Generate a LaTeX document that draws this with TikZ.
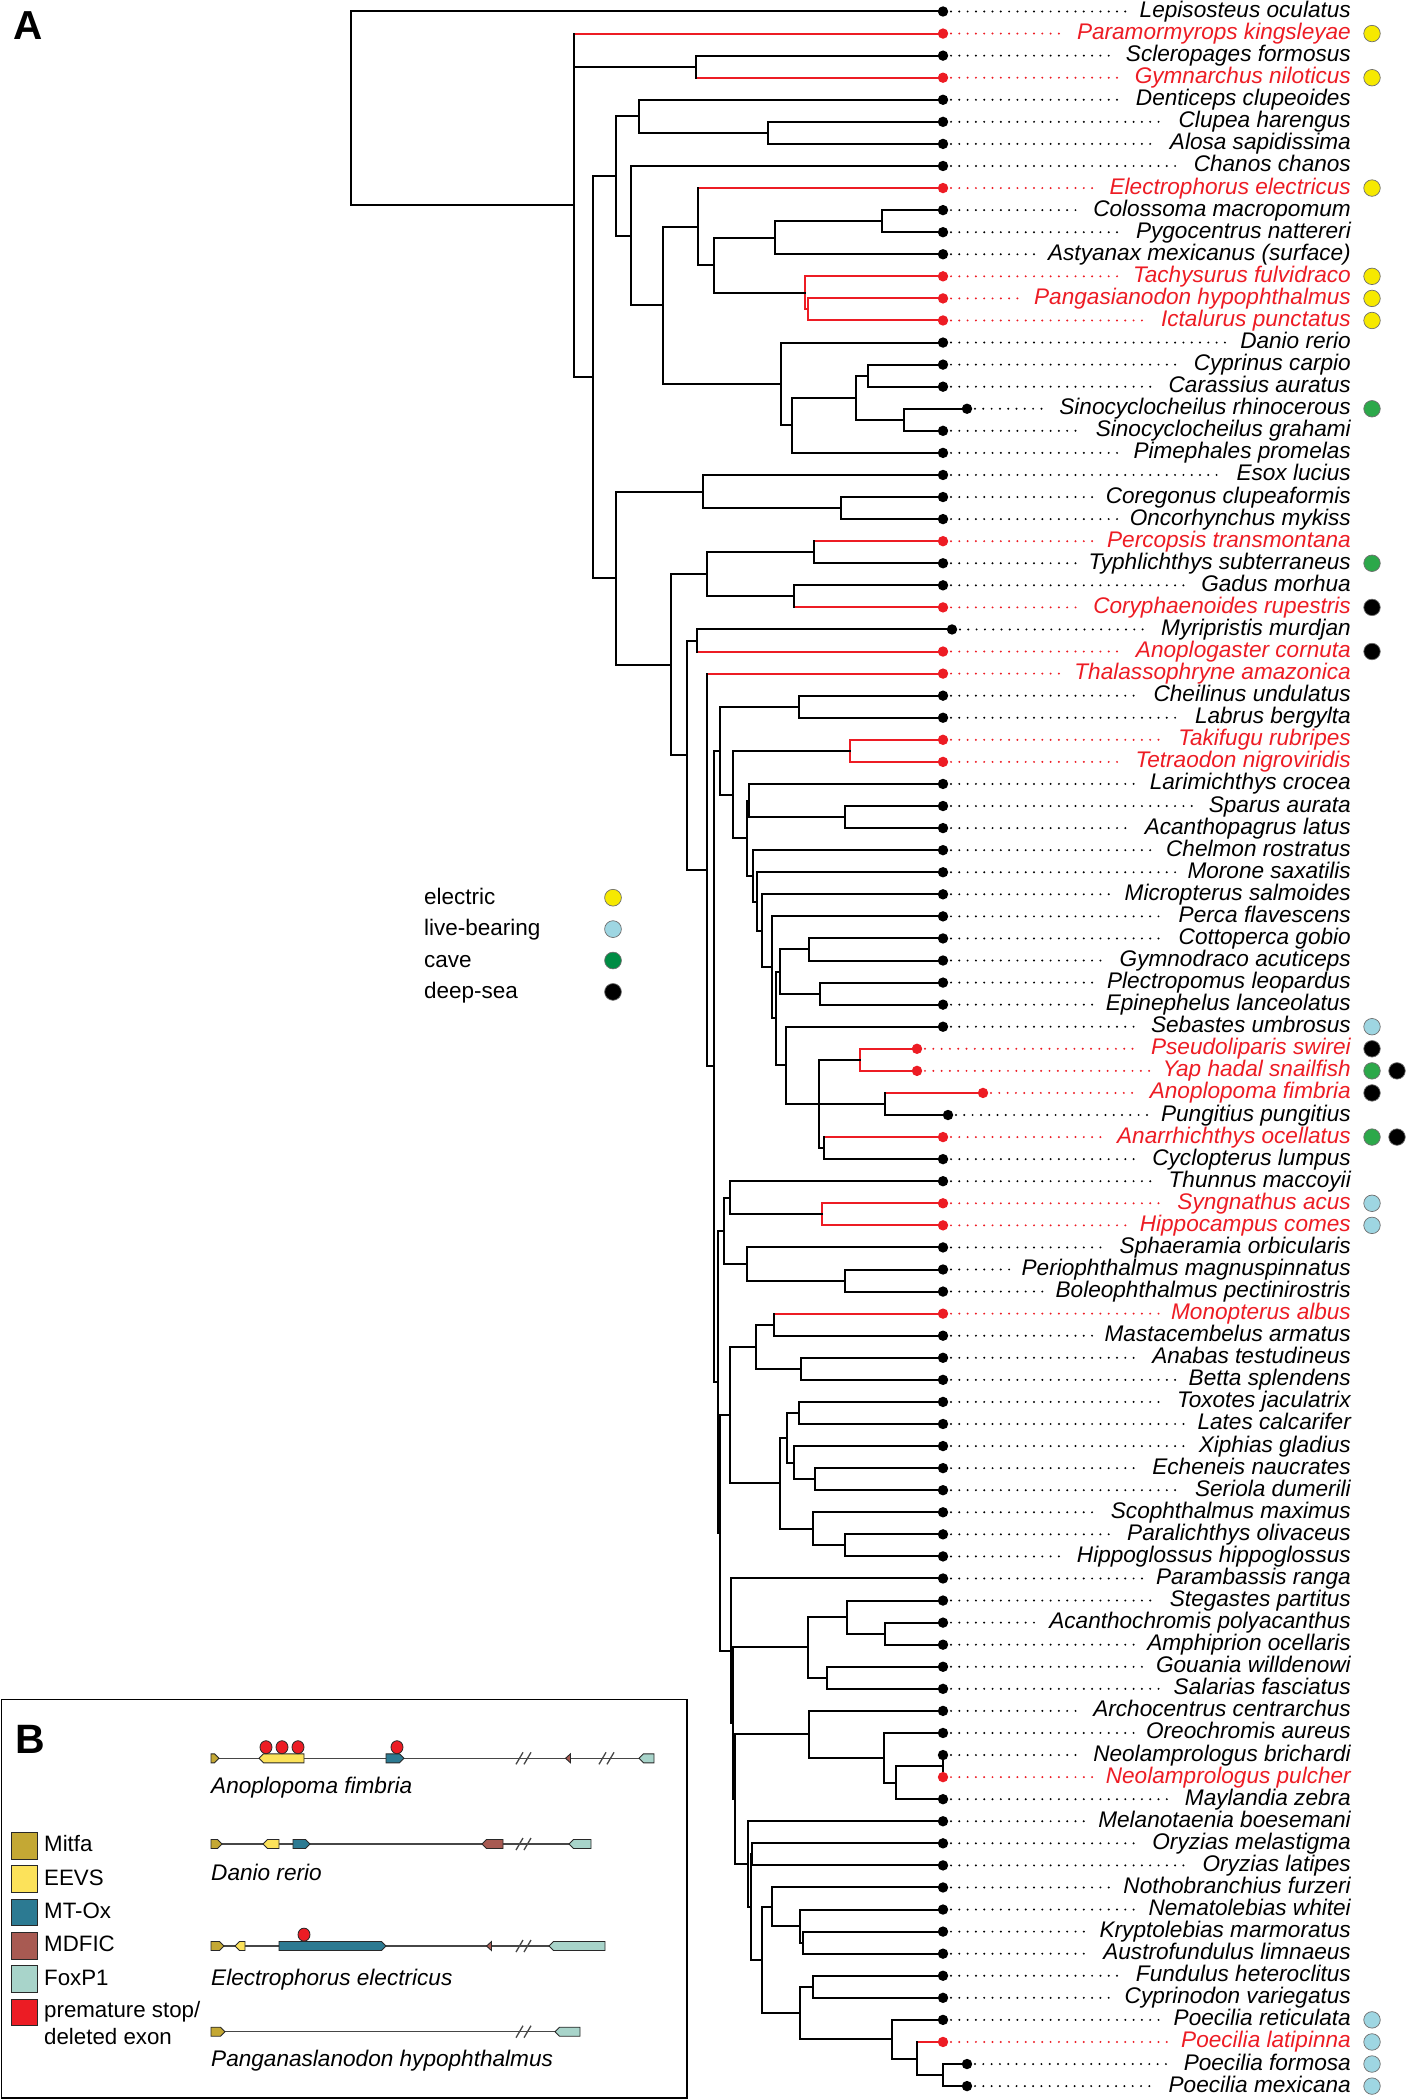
\documentclass[tikz,border=0pt]{standalone}
\usepackage{fontspec}
\setmainfont{Liberation Sans}
\usetikzlibrary{calc}
\definecolor{rd}{RGB}{237,28,36}
\definecolor{bk}{RGB}{0,0,0}
\definecolor{tyellow}{RGB}{246,233,0}
\definecolor{tblue}{RGB}{158,214,226}
\definecolor{tgreen}{RGB}{44,168,74}
\definecolor{lgreen}{RGB}{0,140,68}
\definecolor{trgray}{RGB}{110,110,110}
\definecolor{gdark}{RGB}{40,40,40}
\definecolor{glin}{RGB}{70,70,70}
\definecolor{cMitfa}{RGB}{196,168,52}
\definecolor{cEEVS}{RGB}{252,226,90}
\definecolor{cMTOx}{RGB}{44,122,146}
\definecolor{cMDFIC}{RGB}{168,90,82}
\definecolor{cFoxP}{RGB}{168,212,202}
\definecolor{cStop}{RGB}{236,28,36}
\tikzset{
 br/.style={line width=2pt, line cap=rect},
 lab/.style={anchor=base east, inner sep=0pt, font=\fontsize{22.6}{26}\selectfont\itshape},
 leader/.style={line width=2.2pt, line cap=round, dash pattern=on 0pt off 8.3pt, shorten <=8pt, shorten >=12pt},
 trait/.style={circle, draw=trgray, line width=0.7pt, minimum size=16.5pt, inner sep=0pt},
 legtxt/.style={anchor=base west, inner sep=0pt, font=\fontsize{22.5}{26}\selectfont},
 sptxt/.style={anchor=base west, inner sep=0pt, font=\fontsize{22.6}{26}\selectfont\itshape},
 gene/.style={draw=gdark, line width=0.9pt, line join=miter},
 gline/.style={draw=glin, line width=1.3pt},
 stopm/.style={fill=cStop, draw=gdark, line width=0.8pt},
}
% leaf: index, tip x, colour, name
\newcommand\lf[4]{%
  \coordinate (L#1) at (#2, {11.5+(#1-1)*22.07});
  \node[lab, text=#3] (T#1) at (1351, {17.5+(#1-1)*22.07}) {#4};
  \draw[leader, #3] (L#1) -- (L#1 -| T#1.west);
  \expandafter\gdef\csname lc#1\endcsname{#3}%
}
% trait circle: index, column, colour
\newcommand\tr[3]{\node[trait, fill=#3] (tr#1-#2) at ({1347+25*#2}, {11.5+(#1-1)*22.07}) {};}
% clade: name, x, first child, last child, vertical col, first horiz col, last horiz col
\newcommand\cl[7]{%
  \path let \p1=(#3), \p2=(#4) in coordinate (#1) at (#2pt, {(\y1+\y2)/2});
  \draw[br, #6] (#1 |- #3) -- (#3);
  \draw[br, #7] (#1 |- #4) -- (#4);
  \draw[br, #5] (#1 |- #3) -- (#1 |- #4);
}
\newcommand\hb[3]{\draw[br, #3] (#1 |- #2) -- (#2);}
% genes
\newcommand\gR[4]{\filldraw[gene, fill=#4] (#1,{#3-4.5}) -- ({#2-4.5},{#3-4.5}) -- (#2,#3) -- ({#2-4.5},{#3+4.5}) -- (#1,{#3+4.5}) -- cycle;}
\newcommand\gL[4]{\filldraw[gene, fill=#4] (#2,{#3-4.5}) -- ({#1+4.5},{#3-4.5}) -- (#1,#3) -- ({#1+4.5},{#3+4.5}) -- (#2,{#3+4.5}) -- cycle;}
\newcommand\tri[3]{\filldraw[gene, fill=#3] ({#1-2.5},#2) -- ({#1+2.5},{#2-4.5}) -- ({#1+2.5},{#2+4.5}) -- cycle;}
\newcommand\brk[2]{\draw[gline] ({#1-8},{#2+6}) -- ({#1-1},{#2-6}); \draw[gline] (#1,{#2+6}) -- ({#1+7},{#2-6});}
\newcommand\stp[2]{\filldraw[stopm] (#1,#2) ellipse [x radius=6pt, y radius=6.5pt];}

\begin{document}
\begin{tikzpicture}[x=1pt,y=-1pt]
\useasboundingbox (0,0) rectangle (1406,2100);
\node[anchor=base west, inner sep=0pt, font=\fontsize{40.5}{44}\selectfont\bfseries] (lblA) at (13,40) {A};

% ---------- leaves ----------
\lf{1}{943}{bk}{Lepisosteus oculatus}
\lf{2}{943}{rd}{Paramormyrops kingsleyae}
\lf{3}{943}{bk}{Scleropages formosus}
\lf{4}{943}{rd}{Gymnarchus niloticus}
\lf{5}{943}{bk}{Denticeps clupeoides}
\lf{6}{943}{bk}{Clupea harengus}
\lf{7}{943}{bk}{Alosa sapidissima}
\lf{8}{943}{bk}{Chanos chanos}
\lf{9}{943}{rd}{Electrophorus electricus}
\lf{10}{943}{bk}{Colossoma macropomum}
\lf{11}{943}{bk}{Pygocentrus nattereri}
\lf{12}{943}{bk}{Astyanax mexicanus (surface)}
\lf{13}{943}{rd}{Tachysurus fulvidraco}
\lf{14}{943}{rd}{Pangasianodon hypophthalmus}
\lf{15}{943}{rd}{Ictalurus punctatus}
\lf{16}{943}{bk}{Danio rerio}
\lf{17}{943}{bk}{Cyprinus carpio}
\lf{18}{943}{bk}{Carassius auratus}
\lf{19}{967}{bk}{Sinocyclocheilus rhinocerous}
\lf{20}{943}{bk}{Sinocyclocheilus grahami}
\lf{21}{943}{bk}{Pimephales promelas}
\lf{22}{943}{bk}{Esox lucius}
\lf{23}{943}{bk}{Coregonus clupeaformis}
\lf{24}{943}{bk}{Oncorhynchus mykiss}
\lf{25}{943}{rd}{Percopsis transmontana}
\lf{26}{943}{bk}{Typhlichthys subterraneus}
\lf{27}{943}{bk}{Gadus morhua}
\lf{28}{943}{rd}{Coryphaenoides rupestris}
\lf{29}{952}{bk}{Myripristis murdjan}
\lf{30}{943}{rd}{Anoplogaster cornuta}
\lf{31}{943}{rd}{Thalassophryne amazonica}
\lf{32}{943}{bk}{Cheilinus undulatus}
\lf{33}{943}{bk}{Labrus bergylta}
\lf{34}{943}{rd}{Takifugu rubripes}
\lf{35}{943}{rd}{Tetraodon nigroviridis}
\lf{36}{943}{bk}{Larimichthys crocea}
\lf{37}{943}{bk}{Sparus aurata}
\lf{38}{943}{bk}{Acanthopagrus latus}
\lf{39}{943}{bk}{Chelmon rostratus}
\lf{40}{943}{bk}{Morone saxatilis}
\lf{41}{943}{bk}{Micropterus salmoides}
\lf{42}{943}{bk}{Perca flavescens}
\lf{43}{943}{bk}{Cottoperca gobio}
\lf{44}{943}{bk}{Gymnodraco acuticeps}
\lf{45}{943}{bk}{Plectropomus leopardus}
\lf{46}{943}{bk}{Epinephelus lanceolatus}
\lf{47}{943}{bk}{Sebastes umbrosus}
\lf{48}{917}{rd}{Pseudoliparis swirei}
\lf{49}{917}{rd}{Yap hadal snailfish}
\lf{50}{983}{rd}{Anoplopoma fimbria}
\lf{51}{948}{bk}{Pungitius pungitius}
\lf{52}{943}{rd}{Anarrhichthys ocellatus}
\lf{53}{943}{bk}{Cyclopterus lumpus}
\lf{54}{943}{bk}{Thunnus maccoyii}
\lf{55}{943}{rd}{Syngnathus acus}
\lf{56}{943}{rd}{Hippocampus comes}
\lf{57}{943}{bk}{Sphaeramia orbicularis}
\lf{58}{943}{bk}{Periophthalmus magnuspinnatus}
\lf{59}{943}{bk}{Boleophthalmus pectinirostris}
\lf{60}{943}{rd}{Monopterus albus}
\lf{61}{943}{bk}{Mastacembelus armatus}
\lf{62}{943}{bk}{Anabas testudineus}
\lf{63}{943}{bk}{Betta splendens}
\lf{64}{943}{bk}{Toxotes jaculatrix}
\lf{65}{943}{bk}{Lates calcarifer}
\lf{66}{943}{bk}{Xiphias gladius}
\lf{67}{943}{bk}{Echeneis naucrates}
\lf{68}{943}{bk}{Seriola dumerili}
\lf{69}{943}{bk}{Scophthalmus maximus}
\lf{70}{943}{bk}{Paralichthys olivaceus}
\lf{71}{943}{bk}{Hippoglossus hippoglossus}
\lf{72}{943}{bk}{Parambassis ranga}
\lf{73}{943}{bk}{Stegastes partitus}
\lf{74}{943}{bk}{Acanthochromis polyacanthus}
\lf{75}{943}{bk}{Amphiprion ocellaris}
\lf{76}{943}{bk}{Gouania willdenowi}
\lf{77}{943}{bk}{Salarias fasciatus}
\lf{78}{943}{bk}{Archocentrus centrarchus}
\lf{79}{943}{bk}{Oreochromis aureus}
\lf{80}{943}{bk}{Neolamprologus brichardi}
\lf{81}{943}{rd}{Neolamprologus pulcher}
\lf{82}{943}{bk}{Maylandia zebra}
\lf{83}{943}{bk}{Melanotaenia boesemani}
\lf{84}{943}{bk}{Oryzias melastigma}
\lf{85}{943}{bk}{Oryzias latipes}
\lf{86}{943}{bk}{Nothobranchius furzeri}
\lf{87}{943}{bk}{Nematolebias whitei}
\lf{88}{943}{bk}{Kryptolebias marmoratus}
\lf{89}{943}{bk}{Austrofundulus limnaeus}
\lf{90}{943}{bk}{Fundulus heteroclitus}
\lf{91}{943}{bk}{Cyprinodon variegatus}
\lf{92}{943}{bk}{Poecilia reticulata}
\lf{93}{943}{rd}{Poecilia latipinna}
\lf{94}{967}{bk}{Poecilia formosa}
\lf{95}{967}{bk}{Poecilia mexicana}

% ---------- traits ----------
\tr{2}{1}{tyellow} \tr{4}{1}{tyellow} \tr{9}{1}{tyellow}
\tr{13}{1}{tyellow} \tr{14}{1}{tyellow} \tr{15}{1}{tyellow}
\tr{19}{1}{tgreen} \tr{26}{1}{tgreen}
\tr{28}{1}{black} \tr{30}{1}{black}
\tr{47}{1}{tblue}
\tr{48}{1}{black}
\tr{49}{1}{tgreen} \tr{49}{2}{black}
\tr{50}{1}{black}
\tr{52}{1}{tgreen} \tr{52}{2}{black}
\tr{55}{1}{tblue} \tr{56}{1}{tblue}
\tr{92}{1}{tblue} \tr{93}{1}{tblue} \tr{94}{1}{tblue} \tr{95}{1}{tblue}

% ---------- tree ----------
\cl{nF}{768}{L6}{L7}{bk}{bk}{bk}
\cl{nE}{639}{L5}{nF}{bk}{bk}{bk}
\cl{nL}{882}{L10}{L11}{bk}{bk}{bk}
\cl{nK}{774.6}{nL}{L12}{bk}{bk}{bk}
\cl{nN}{808}{L14}{L15}{rd}{rd}{rd}
\cl{nM}{804.6}{L13}{nN}{rd}{rd}{rd}
\cl{nJ}{713.7}{nK}{nM}{bk}{bk}{bk}
\cl{nI}{698}{L9}{nJ}{bk}{rd}{bk}
\cl{nR}{868}{L17}{L18}{bk}{bk}{bk}
\cl{nS}{904}{L19}{L20}{bk}{bk}{bk}
\cl{nQ}{856}{nR}{nS}{bk}{bk}{bk}
\cl{nP}{792}{nQ}{L21}{bk}{bk}{bk}
\cl{nO}{781}{L16}{nP}{bk}{bk}{bk}
\cl{nH}{662.7}{nI}{nO}{bk}{bk}{bk}
\cl{nG}{631}{L8}{nH}{bk}{bk}{bk}
\cl{nD}{615.6}{nE}{nG}{bk}{bk}{bk}
\cl{nV}{841}{L23}{L24}{bk}{bk}{bk}
\cl{nU}{703}{L22}{nV}{bk}{bk}{bk}
\cl{nY}{814}{L25}{L26}{bk}{rd}{bk}
\cl{nZ}{793.5}{L27}{L28}{bk}{bk}{rd}
\cl{nX}{707.3}{nY}{nZ}{bk}{bk}{bk}
\cl{nAB}{696.7}{L29}{L30}{bk}{bk}{rd}
\cl{nAF}{798.7}{L32}{L33}{bk}{bk}{bk}
\cl{nAH}{850}{L34}{L35}{rd}{rd}{rd}
\cl{nAJb}{844.5}{L37}{L38}{bk}{bk}{bk}
\cl{nAJ}{749.3}{L36}{nAJb}{bk}{bk}{bk}
\cl{nAQ}{809.4}{L43}{L44}{bk}{bk}{bk}
\cl{nAR}{820.4}{L45}{L46}{bk}{bk}{bk}
\cl{nAP}{779.7}{nAQ}{nAR}{bk}{bk}{bk}
\cl{nAU}{860}{L48}{L49}{rd}{rd}{rd}
\cl{nAT}{885}{L50}{L51}{bk}{rd}{bk}
\cl{nAW}{824.4}{L52}{L53}{bk}{rd}{bk}
\cl{nAV}{819}{nAU}{nAW}{bk}{bk}{bk}
\hb{nAV}{nAT}{bk}
\cl{nAS}{786}{L47}{nAV}{bk}{bk}{bk}
\cl{nAO}{776}{nAP}{nAS}{bk}{bk}{bk}
\cl{nAN}{771.8}{L42}{nAO}{bk}{bk}{bk}
\cl{nAM}{762}{L41}{nAN}{bk}{bk}{bk}
\cl{nAL}{757}{L40}{nAM}{bk}{bk}{bk}
\cl{nAK}{753.2}{L39}{nAL}{bk}{bk}{bk}
\cl{nAI}{746.5}{nAJ}{nAK}{bk}{bk}{bk}
\cl{nAG}{733.4}{nAH}{nAI}{bk}{bk}{bk}
\cl{nAE}{720}{nAF}{nAG}{bk}{bk}{bk}
\cl{nBB}{822.4}{L55}{L56}{rd}{rd}{rd}
\cl{nBA}{729.5}{L54}{nBB}{bk}{bk}{bk}
\cl{nBD}{845}{L58}{L59}{bk}{bk}{bk}
\cl{nBC}{746.5}{L57}{nBD}{bk}{bk}{bk}
\cl{nAY}{723.5}{nBA}{nBC}{bk}{bk}{bk}
\cl{nBE}{774}{L60}{L61}{bk}{rd}{bk}
\cl{nBG}{801}{L62}{L63}{bk}{bk}{bk}
\cl{nBF}{756}{nBE}{nBG}{bk}{bk}{bk}
\cl{nBL}{798.7}{L64}{L65}{bk}{bk}{bk}
\cl{nBN}{814.5}{L67}{L68}{bk}{bk}{bk}
\cl{nBM}{794}{L66}{nBN}{bk}{bk}{bk}
\cl{nBK}{787}{nBL}{nBM}{bk}{bk}{bk}
\cl{nBP}{845}{L70}{L71}{bk}{bk}{bk}
\cl{nBO}{813.3}{L69}{nBP}{bk}{bk}{bk}
\cl{nBI}{779.7}{nBK}{nBO}{bk}{bk}{bk}
\cl{nBH}{729.5}{nBF}{nBI}{bk}{bk}{bk}
\cl{nBU}{885}{L74}{L75}{bk}{bk}{bk}
\cl{nBT}{847}{L73}{nBU}{bk}{bk}{bk}
\cl{nBV}{827}{L76}{L77}{bk}{bk}{bk}
\cl{nBS}{807.8}{nBT}{nBV}{bk}{bk}{bk}
\cl{nCA}{943}{L80}{L81}{bk}{bk}{rd}
\cl{nBZ}{896}{nCA}{L82}{bk}{bk}{bk}
\cl{nBY}{883.7}{L79}{nBZ}{bk}{bk}{bk}
\cl{nBX}{809.4}{L78}{nBY}{bk}{bk}{bk}
\cl{nCG}{803.4}{L88}{L89}{bk}{bk}{bk}
\cl{nCF}{799.5}{L87}{nCG}{bk}{bk}{bk}
\cl{nCE}{772}{L86}{nCF}{bk}{bk}{bk}
\cl{nCI}{812.5}{L90}{L91}{bk}{bk}{bk}
\cl{nCL}{943}{L94}{L95}{bk}{bk}{bk}
\cl{nCK}{917.3}{L93}{nCL}{bk}{rd}{bk}
\cl{nCJ}{891.6}{L92}{nCK}{bk}{bk}{bk}
\cl{nCH}{800}{nCI}{nCJ}{bk}{bk}{bk}
\cl{nCD}{762.3}{nCE}{nCH}{bk}{bk}{bk}
\cl{nON}{752}{L84}{L85}{bk}{bk}{bk}
\cl{nCC}{750.5}{nON}{nCD}{bk}{bk}{bk}
\cl{nCB}{748.3}{L83}{nCC}{bk}{bk}{bk}
\cl{nBW}{735.4}{nBX}{nCB}{bk}{bk}{bk}
\cl{nBR}{733.4}{nBS}{nBW}{bk}{bk}{bk}
\cl{nBQ}{730.7}{L72}{nBR}{bk}{bk}{bk}
\cl{nBJ}{719.6}{nBH}{nBQ}{bk}{bk}{bk}
\cl{nAX}{717.6}{nAY}{nBJ}{bk}{bk}{bk}
\cl{nAD}{713.7}{nAE}{nAX}{bk}{bk}{bk}
\cl{nAC}{706.5}{L31}{nAD}{bk}{rd}{bk}
\cl{nAA}{687}{nAB}{nAC}{bk}{bk}{bk}
\cl{nW}{671.4}{nX}{nAA}{bk}{bk}{bk}
\cl{nT}{616}{nU}{nW}{bk}{bk}{bk}
\cl{nC}{593}{nD}{nT}{bk}{bk}{bk}
\cl{nB}{696}{L3}{L4}{bk}{bk}{rd}
\cl{nA}{574}{L2}{nC}{bk}{rd}{bk}
\hb{nA}{nB}{bk}
\cl{nRoot}{351}{L1}{nA}{bk}{bk}{bk}

% tip dots
\foreach \i in {1,...,95}{%
  \edef\tmpc{\csname lc\i\endcsname}%
  \fill[color=\tmpc] (L\i) circle[radius=5.2pt];
}

% ---------- trait legend ----------
\node[legtxt] (lgE) at (424,904.3) {electric};
\node[legtxt] (lgL) at (424,935.7) {live-bearing};
\node[legtxt] (lgC) at (424,967.1) {cave};
\node[legtxt] (lgD) at (424,998.5) {deep-sea};
\node[trait, fill=tyellow, minimum size=16.8pt] (lgEc) at (613,897.7) {};
\node[trait, fill=tblue, minimum size=16.8pt] (lgLc) at (613,929.1) {};
\node[trait, fill=lgreen, minimum size=16.8pt] (lgCc) at (613,960.5) {};
\node[trait, fill=black, minimum size=16.8pt] (lgDc) at (613,991.9) {};

% ---------- panel B ----------
\draw[line width=1.5pt] (1.5,1699.5) rectangle (687,2098);
\node[anchor=base west, inner sep=0pt, font=\fontsize{41}{44}\selectfont\bfseries] (lblB) at (15,1753) {B};

\filldraw[gene, fill=cMitfa] (11,1832.3) rectangle (37,1859);
\filldraw[gene, fill=cEEVS] (11,1865.6) rectangle (37,1892.3);
\filldraw[gene, fill=cMTOx] (11,1899) rectangle (37,1925.7);
\filldraw[gene, fill=cMDFIC] (11,1932.3) rectangle (37,1959);
\filldraw[gene, fill=cFoxP] (11,1965.6) rectangle (37,1992.3);
\filldraw[gene, fill=cStop] (11,1999) rectangle (37,2025.7);
\node[legtxt, font=\fontsize{22.3}{26}\selectfont] (kM) at (44,1851.7) {Mitfa};
\node[legtxt, font=\fontsize{22.3}{26}\selectfont] (kE) at (44,1885) {EEVS};
\node[legtxt, font=\fontsize{22.3}{26}\selectfont] (kO) at (44,1918.3) {MT-Ox};
\node[legtxt, font=\fontsize{22.3}{26}\selectfont] (kD) at (44,1951.7) {MDFIC};
\node[legtxt, font=\fontsize{22.3}{26}\selectfont] (kF) at (44,1985) {FoxP1};
\node[legtxt, font=\fontsize{22.3}{26}\selectfont] (kS1) at (44,2017) {premature stop/};
\node[legtxt, font=\fontsize{22.3}{26}\selectfont] (kS2) at (44,2044) {deleted exon};

% track 1: Anoplopoma fimbria
\draw[gline] (211,1758.3) -- (654,1758.3);
\gR{211}{219}{1758.3}{cMitfa}
\gL{259}{304}{1758.3}{cEEVS}
\gR{386}{404}{1758.3}{cMTOx}
\tri{568}{1758.3}{cMDFIC}
\gL{639}{654}{1758.3}{cFoxP}
\brk{524}{1758.3}
\brk{607}{1758.3}
\stp{266}{1747.2} \stp{282}{1747.2} \stp{298}{1747.2} \stp{397}{1747.2}
\node[sptxt] (sp1) at (211,1793) {Anoplopoma fimbria};

% track 2: Danio rerio
\draw[gline] (211,1844) -- (591,1844);
\gR{211}{222}{1844}{cMitfa}
\gL{263}{279}{1844}{cEEVS}
\gR{293}{310}{1844}{cMTOx}
\gL{482}{503}{1844}{cMDFIC}
\brk{524}{1844}
\gL{569}{591}{1844}{cFoxP}
\node[sptxt] (sp2) at (211,1880) {Danio rerio};

% track 3: Electrophorus electricus
\draw[gline] (211,1946) -- (605,1946);
\gR{211}{224}{1946}{cMitfa}
\gL{235}{245}{1946}{cEEVS}
\gR{279}{386}{1946}{cMTOx}
\tri{489}{1946}{cMDFIC}
\brk{524}{1946}
\gL{549}{605}{1946}{cFoxP}
\stp{304}{1934.6}
\node[sptxt] (sp3) at (211,1985) {Electrophorus electricus};

% track 4: Panganaslanodon hypophthalmus
\draw[gline] (211,2031.7) -- (580,2031.7);
\gR{211}{225}{2031.7}{cMitfa}
\brk{524}{2031.7}
\gL{555}{580}{2031.7}{cFoxP}
\node[sptxt] (sp4) at (211,2066.5) {Panganaslanodon hypophthalmus};
\end{tikzpicture}
\end{document}
